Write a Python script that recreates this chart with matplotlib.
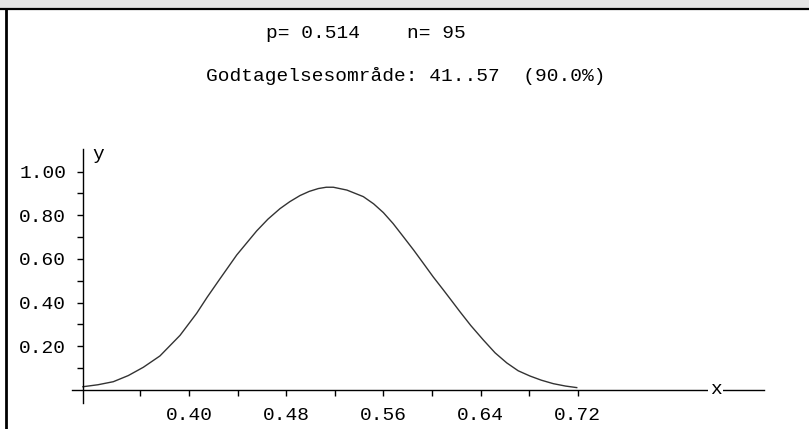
import numpy as np
import matplotlib
matplotlib.use("Agg")
import matplotlib.pyplot as plt

# curve (x = true p, y = acceptance probability)
xs = [0.3127, 0.3250, 0.3377, 0.3500, 0.3624, 0.3761, 0.3926, 0.4063, 0.4150,
      0.4250, 0.4393, 0.4557, 0.4650, 0.4749, 0.4830, 0.4914, 0.4990, 0.5065,
      0.5130, 0.5188, 0.5300, 0.5435, 0.5520, 0.5600, 0.5680, 0.5764, 0.5850,
      0.5929, 0.6010, 0.6094, 0.6160, 0.6231, 0.6320, 0.6423, 0.6520, 0.6616,
      0.6710, 0.6807, 0.6900, 0.6999, 0.7100, 0.7192]
ys = [0.015, 0.024, 0.038, 0.066, 0.104, 0.156, 0.250, 0.351, 0.425,
      0.505, 0.618, 0.728, 0.782, 0.830, 0.862, 0.890, 0.909, 0.922,
      0.928, 0.928, 0.915, 0.885, 0.852, 0.812, 0.762, 0.702, 0.640,
      0.580, 0.518, 0.458, 0.410, 0.358, 0.295, 0.229, 0.170, 0.124,
      0.088, 0.064, 0.045, 0.029, 0.018, 0.011]

xticks_major = [0.40, 0.48, 0.56, 0.64, 0.72]
xticks_minor = [0.36, 0.44, 0.52, 0.60, 0.68]
yticks_major = [0.20, 0.40, 0.60, 0.80, 1.00]
yticks_minor = [0.10, 0.30, 0.50, 0.70, 0.90]

title1 = "p= 0.514    n= 95"
title2 = "Godtagelsesområde: 41..57  (90.0%)"

W, H = 809, 429
mono = "Liberation Mono"
fs = 14

fig = plt.figure(figsize=(W / 100, H / 100), dpi=100)
fig.patch.set_facecolor("white")

# frame of the window (top and left edges only are visible)
fig.add_artist(plt.Rectangle((0, 1 - 8 / H), 1, 8 / H, transform=fig.transFigure,
                             color="#e4e4e4", lw=0))
fig.add_artist(plt.Line2D([0, 1], [1 - 9 / H] * 2, transform=fig.transFigure,
                          color="black", lw=1.6))
fig.add_artist(plt.Line2D([5.5 / W] * 2, [0, 1 - 9 / H], transform=fig.transFigure,
                          color="black", lw=2.0))

# axes placed by pixel position
left, right, bottom, top = 72, 764, 403, 149
ax = fig.add_axes([left / W, 1 - bottom / H, (right - left) / W, (bottom - top) / H])
ax.set_xlim(0.30368, 0.87337)
ax.set_ylim(-0.0595, 1.103)
ax.patch.set_alpha(0)

ax.plot(xs, ys, color="#333333", lw=1.0, solid_joinstyle="round")

for s in ["top", "right"]:
    ax.spines[s].set_visible(False)
ax.spines["left"].set_position(("data", 0.3127))
ax.spines["bottom"].set_position(("data", 0.0))
for s in ["left", "bottom"]:
    ax.spines[s].set_linewidth(1.0)

ax.set_xticks(xticks_major)
ax.set_xticklabels([f"{v:.2f}" for v in xticks_major])
ax.set_xticks(xticks_minor, minor=True)
ax.set_yticks(yticks_major)
ax.set_yticklabels([f"{v:.2f}" for v in yticks_major])
ax.set_yticks(yticks_minor, minor=True)
ax.tick_params(which="both", direction="out", length=4, width=1.0, pad=8,
               labelsize=fs)
for lab in ax.get_xticklabels() + ax.get_yticklabels():
    lab.set_family(mono)

ax.text(0.3127 + 0.008, 1.08, "y", fontsize=fs, family=mono, ha="left", va="center")
ax.text(0.8335, 0.0, "x", fontsize=fs, family=mono, ha="center", va="center",
        bbox=dict(facecolor="white", edgecolor="none", pad=1))

fig.text(366 / W, 1 - 33 / H, title1, fontsize=fs, family=mono, ha="center", va="center")
fig.text(406 / W, 1 - 76 / H, title2, fontsize=fs, family=mono, ha="center", va="center")

fig.savefig("out.png", dpi=100)
